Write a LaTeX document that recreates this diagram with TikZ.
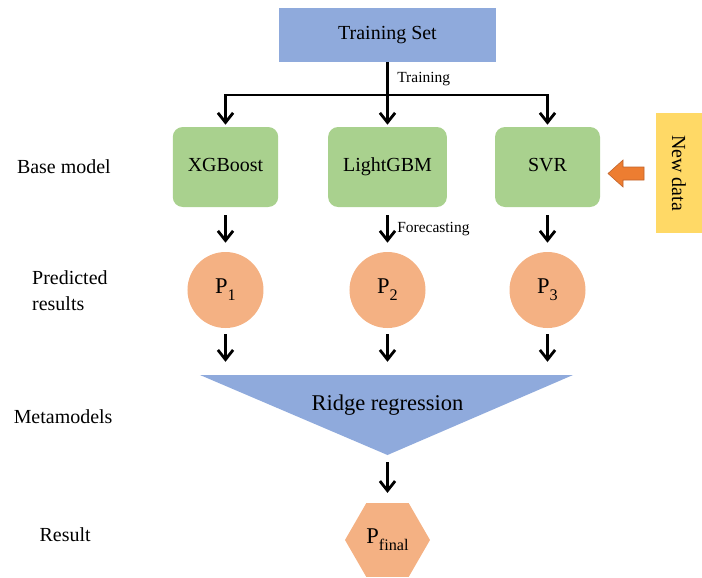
\documentclass[tikz,border=0pt]{standalone}
\usepackage{fontspec}
\setmainfont{Liberation Serif}
\usepackage{tikz}
\usetikzlibrary{arrows.meta}
\usetikzlibrary{quotes}
\usetikzlibrary{shapes.geometric}

\definecolor{setblue}{HTML}{8FAADC}
\definecolor{modelgreen}{HTML}{A9D18E}
\definecolor{predorange}{HTML}{F4B183}
\definecolor{datayellow}{HTML}{FFD966}
\definecolor{arrorange}{HTML}{ED7D31}
\definecolor{arrborder}{HTML}{C0622A}

% P with a larger, lowered index
\newcommand{\psub}[1]{P\raisebox{-0.32em}{\fontsize{11.5}{12}\selectfont #1}}

\begin{document}
\begin{tikzpicture}[font=\fontsize{14.2}{18.4}\selectfont,
        arr/.style={-{Straight Barb[length=2.4mm,width=3.8mm]}, line width=2pt},
        every edge quotes/.style={font=\fontsize{11}{13}\selectfont, right, inner sep=6pt},
        model/.style={rectangle, rounded corners=0.25cm, fill=modelgreen,
            minimum width=2.625cm, minimum height=2cm, inner xsep=0.375cm,
            text height=1.6ex, text depth=0.1ex},
        pred/.style={circle, fill=predorange, minimum size=1.9cm, inner sep=0pt,
            font=\fontsize{16}{18}\selectfont}]

        \useasboundingbox (-9.6875,4.175) rectangle (7.8625,-10.25);

        % training data and the split into the three learners
        \node[fill=setblue, minimum width=5.4cm, minimum height=1.35cm] (ts) at (0, 3.3) {Training Set};
        \coordinate (split) at (0, 1.8);

        \node[model]         (xgb) at (-4.05, 0)       {XGBoost};
        \node[model]         (lgbm) at (0, 0)          {LightGBM};
        \node[model]         (svr) at (4.0, 0)         {SVR};

        \draw (ts) edge["Training", line width=2pt]  (split);
        \draw[arr, shorten >=0.05cm] (split) -| (xgb);
        \draw[arr, shorten >=0.05cm] (split) -- (lgbm);
        \draw[arr, shorten >=0.05cm] (split) -| (svr);

        % new data coming in from the side
        \node[fill=datayellow, rotate=-90, minimum width=3cm, minimum height=1.15cm] (newd) at (7.2875, -0.15) {New data};
        \filldraw[fill=arrorange, draw=arrborder, line width=0.4pt]
            (5.5125,-0.1625) -- (5.8875,0.175) -- (5.8875,0) -- (6.4125,0)
            -- (6.4125,-0.325) -- (5.8875,-0.325) -- (5.8875,-0.5) -- cycle;

        % predictions
        \node[pred]          (p1) at (-4.05, -3.075)   {\psub{1}};
        \node[pred]          (p2) at (0, -3.075)       {\psub{2}};
        \node[pred]          (p3) at (4.0, -3.075)     {\psub{3}};

        \draw (xgb) edge[arr, shorten <=0.2cm, shorten >=0.225cm]  (p1);
        \draw (lgbm) edge["Forecasting", arr, shorten <=0.2cm, shorten >=0.225cm]  (p2);
        \draw (svr) edge[arr, shorten <=0.2cm, shorten >=0.225cm]  (p3);

        % meta learner
        \coordinate (tl) at (-4.6875, -5.2);
        \coordinate (tr) at (4.6375, -5.2);
        \coordinate (apex) at (0, -7.2);
        \fill[setblue] (tl) -- (tr) -- (apex) -- cycle;
        \node[font=\fontsize{16}{19}\selectfont] (ridge) at (0, -5.95) {Ridge regression};

        \foreach \i in {1,2,3}
            \draw[arr, shorten <=0.15cm, shorten >=0.33cm] (p\i) -- (p\i |- tl);

        \node[regular polygon, regular polygon sides=6, minimum size=2.125cm, inner sep=0pt,
            fill=predorange, font=\fontsize{16}{18}\selectfont] (pfin) at (0, -9.325) {\psub{final}};
        \draw[arr, shorten <=0.175cm, shorten >=0.25cm] (apex) -- (pfin);

        % row captions
        \node                (lbase) at (-8.09, 0)       {Base model};
        \node[align=left]    (lpred) at (-7.94, -3.1)    {Predicted\\results};
        \node                (lmeta) at (-8.11, -6.25)   {Metamodels};
        \node                (lres) at (-8.06, -9.2)     {Result};
      \end{tikzpicture}
\end{document}
